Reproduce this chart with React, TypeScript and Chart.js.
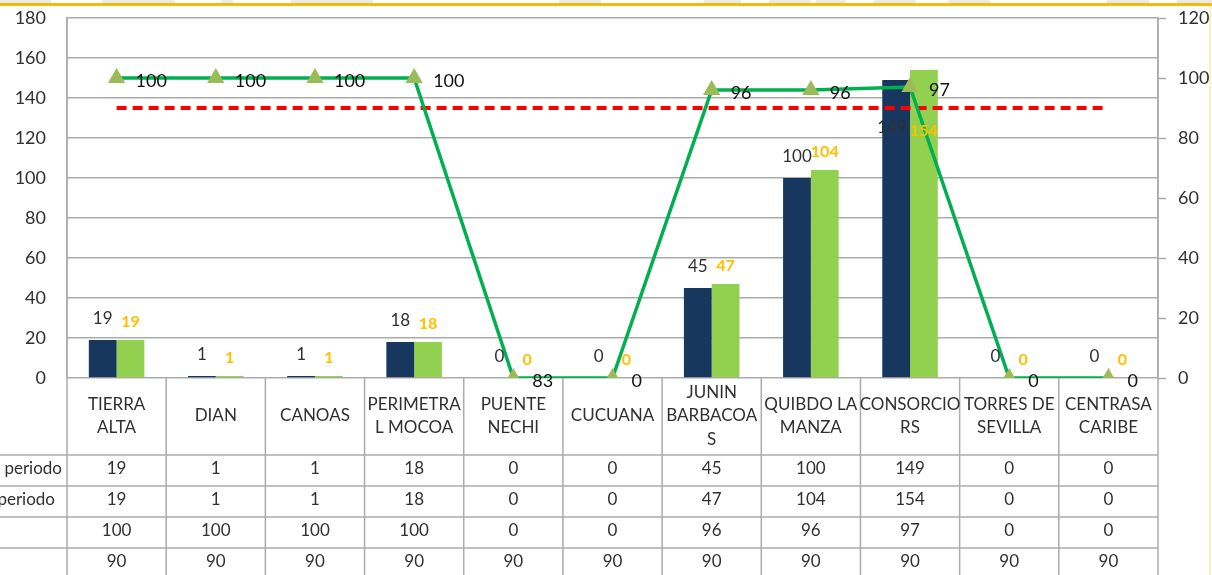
import React, { useEffect, useRef } from "react";
import { Chart, registerables } from "chart.js";

Chart.register(...registerables);

// ---- Data ----
const categories: string[][] = [
  ["TIERRA", "ALTA"],
  ["DIAN"],
  ["CANOAS"],
  ["PERIMETRA", "L MOCOA"],
  ["PUENTE", "NECHI"],
  ["CUCUANA"],
  ["JUNIN", "BARBACOA", "S"],
  ["QUIBDO LA", "MANZA"],
  ["CONSORCIO", "RS"],
  ["TORRES DE", "SEVILLA"],
  ["CENTRASA", "CARIBE"],
];
const seriesNames = ["I periodo", "II periodo", "% Cumplimiento", "Meta"];
const period1 = [19, 1, 1, 18, 0, 0, 45, 100, 149, 0, 0];
const period2 = [19, 1, 1, 18, 0, 0, 47, 104, 154, 0, 0];
const compliance = [100, 100, 100, 100, 0, 0, 96, 96, 97, 0, 0];
const complianceLabels = ["100", "100", "100", "100", "83", "0", "96", "96", "97", "0", "0"];
const target = [90, 90, 90, 90, 90, 90, 90, 90, 90, 90, 90];
const leftTicks = [0, 20, 40, 60, 80, 100, 120, 140, 160, 180];
const rightTicks = [0, 20, 40, 60, 80, 100, 120];

// ---- Styles ----
const FONT = "Lato, 'Open Sans', sans-serif";
const NAVY = "#17375E";
const LIGHT_GREEN = "#92D050";
const LINE_GREEN = "#00B050";
const MARKER = "#9BBB59";
const RED = "#FF0000";
const GRID = "#ABABAB";
const TEXT = "#303030";
const ORANGE = "#FFC000";

const W = 1212;
const H = 575;
const LABEL_CEILING = 125; // labels of very tall bars are kept inside, at this value

const tablePlugin = {
  id: "dataTableAndLabels",
  beforeDraw(chart: any) {
    const ctx = chart.ctx;
    ctx.save();
    ctx.fillStyle = "#ffffff";
    ctx.fillRect(0, 0, W, H);
    ctx.restore();
  },
  afterDatasetsDraw(chart: any) {
    const ctx = chart.ctx;
    const yS = chart.scales.y;
    const ceil = yS.getPixelForValue(LABEL_CEILING);
    ctx.save();
    const m0 = chart.getDatasetMeta(0);
    const m1 = chart.getDatasetMeta(1);
    ctx.textAlign = "center";
    ctx.textBaseline = "middle";
    m0.data.forEach((el: any, i: number) => {
      ctx.font = `17px ${FONT}`;
      ctx.fillStyle = TEXT;
      ctx.fillText(String(period1[i]), el.x - 4 * (el.y - 21 < ceil ? 1 : 0), Math.max(el.y - 21, ceil));
    });
    m1.data.forEach((el: any, i: number) => {
      ctx.font = `bold 16px ${FONT}`;
      ctx.fillStyle = ORANGE;
      ctx.fillText(String(period2[i]), el.x, Math.max(el.y - 21, ceil) + 3);
    });
    const m2 = chart.getDatasetMeta(2);
    ctx.textAlign = "left";
    ctx.font = `18px ${FONT}`;
    ctx.fillStyle = "#111111";
    m2.data.forEach((el: any, i: number) => {
      ctx.fillText(complianceLabels[i], el.x + 19, el.y + 3);
    });
    ctx.restore();
  },
  afterDraw(chart: any) {
    const ctx = chart.ctx;
    const area = chart.chartArea;
    const xs = chart.scales.x;
    const y1 = chart.scales.y1;
    const n = categories.length;
    const cw = (area.right - area.left) / n;
    const top = area.bottom;
    const rows = [455, 486, 517, 548];
    const rowCenters = [469, 500, 531, 562];
    ctx.save();
    ctx.strokeStyle = GRID;
    ctx.lineWidth = 1.5;
    // right axis tick marks
    rightTicks.forEach((v) => {
      const y = Math.round(y1.getPixelForValue(v)) + 0.5;
      ctx.beginPath();
      ctx.moveTo(area.right, y);
      ctx.lineTo(area.right + 8, y);
      ctx.stroke();
    });
    rows.forEach((y) => {
      ctx.beginPath();
      ctx.moveTo(0, y);
      ctx.lineTo(area.right, y);
      ctx.stroke();
    });
    for (let i = 0; i <= n; i++) {
      const x = area.left + i * cw;
      ctx.beginPath();
      ctx.moveTo(x, i === 0 || i === n ? area.top : top);
      ctx.lineTo(x, H);
      ctx.stroke();
    }
    ctx.fillStyle = TEXT;
    ctx.font = `17px ${FONT}`;
    ctx.textAlign = "center";
    ctx.textBaseline = "middle";
    const headerMid = 416;
    const lh = 23.5;
    categories.forEach((lines, i) => {
      const cx = xs.getPixelForValue(i);
      const start = headerMid - ((lines.length - 1) * lh) / 2;
      lines.forEach((t, j) => ctx.fillText(t, cx, start + j * lh));
    });
    const rowsData = [period1, period2, compliance, target];
    rowsData.forEach((arr, r) => {
      arr.forEach((v, i) => {
        ctx.fillText(String(v), xs.getPixelForValue(i), rowCenters[r]);
      });
    });
    ctx.textAlign = "right";
    ctx.fillText(seriesNames[0], 62, rowCenters[0]);
    ctx.fillText(seriesNames[1], 55, rowCenters[1]);
    // top decoration
    ctx.fillStyle = "#EBEBEB";
    [[0, 22], [44, 75], [95, 100], [125, 160], [240, 258], [302, 318], [330, 348], [350, 363], [375, 393], [407, 425], [475, 493], [505, 523]].forEach(([a, b]) => {
      ctx.fillRect(a * 2.33, 0, (b - a) * 2.33, 3);
    });
    ctx.fillStyle = "#F7BA0B";
    ctx.fillRect(0, 3, W, 3);
    ctx.fillStyle = "#FFF0C2";
    ctx.fillRect(1209, 6, 2, H);
    ctx.restore();
  },
};

export default function App() {
  const ref = useRef<HTMLCanvasElement | null>(null);
  useEffect(() => {
    if (!ref.current) return;
    const chart = new Chart(ref.current, {
      type: "bar",
      data: {
        labels: categories.map((c) => c.join(" ")),
        datasets: [
          {
            type: "bar",
            label: seriesNames[0],
            data: period1,
            backgroundColor: NAVY,
            yAxisID: "y",
            order: 3,
            barPercentage: 1,
            categoryPercentage: 0.56,
          },
          {
            type: "bar",
            label: seriesNames[1],
            data: period2,
            backgroundColor: LIGHT_GREEN,
            yAxisID: "y",
            order: 3,
            barPercentage: 1,
            categoryPercentage: 0.56,
          },
          {
            type: "line",
            label: seriesNames[2],
            data: compliance,
            yAxisID: "y1",
            borderColor: LINE_GREEN,
            borderWidth: 3.5,
            pointStyle: "triangle",
            pointRadius: 10,
            pointBackgroundColor: MARKER,
            pointBorderColor: MARKER,
            pointBorderWidth: 0,
            tension: 0,
            order: 0,
          },
          {
            type: "line",
            label: seriesNames[3],
            data: target,
            yAxisID: "y1",
            borderColor: RED,
            borderWidth: 4,
            borderDash: [10, 6],
            pointRadius: 0,
            tension: 0,
            order: 1,
          },
        ] as any,
      },
      options: {
        responsive: false,
        animation: false,
        layout: { padding: { top: 18, bottom: H - 378, left: 0, right: 0 } },
        plugins: {
          legend: { display: false },
          tooltip: { enabled: false },
          title: { display: false },
        },
        scales: {
          x: { display: false, offset: true, grid: { display: false } },
          y: {
            position: "left",
            min: 0,
            max: 180,
            afterBuildTicks: (s: any) => {
              s.ticks = leftTicks.map((v) => ({ value: v }));
            },
            afterFit: (s: any) => {
              s.width = 67;
            },
            ticks: {
              color: TEXT,
              font: { family: FONT, size: 18 },
              padding: 0,
            },
            grid: { color: GRID, lineWidth: 1.5, drawTicks: true, tickLength: 21, tickColor: "rgba(0,0,0,0)" },
            border: { display: true, color: GRID, width: 1.5 },
          },
          y1: {
            position: "right",
            min: 0,
            max: 120,
            afterBuildTicks: (s: any) => {
              s.ticks = rightTicks.map((v) => ({ value: v }));
            },
            afterFit: (s: any) => {
              s.width = W - 1158;
            },
            ticks: {
              color: TEXT,
              font: { family: FONT, size: 18 },
              padding: 0,
            },
            grid: { drawOnChartArea: false, drawTicks: true, tickLength: 20, tickColor: "rgba(0,0,0,0)" },
            border: { display: true, color: GRID, width: 1.5 },
          },
        },
      } as any,
      plugins: [tablePlugin],
    });
    return () => chart.destroy();
  }, []);
  return (
    <div style={{ position: "absolute", left: 0, top: 0, width: W, height: H, background: "#fff" }}>
      <canvas ref={ref} width={W} height={H} style={{ display: "block" }} />
    </div>
  );
}
